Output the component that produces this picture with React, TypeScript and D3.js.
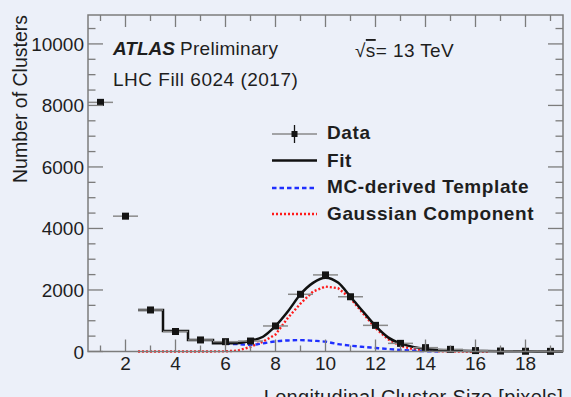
import * as d3 from "d3";

// measured cluster counts per longitudinal size bin
const dataX = [1, 2, 3, 4, 5, 6, 7, 8, 9, 10, 11, 12, 13, 14, 15, 16, 17, 18, 19];
const dataY = [8100, 4400, 1350, 650, 375, 320, 340, 830, 1860, 2490, 1780, 850, 265, 125, 70, 30, 15, 8, 5];

// fit: binned part at low sizes, then smooth part
const fitStepBins = [3, 4, 5, 6];
const fitStepValues = [1350, 665, 375, 270];
const fitCurveX = [6.5, 7, 7.5, 8, 8.5, 9, 9.5, 10, 10.5, 11, 11.5, 12, 12.5, 13, 13.5, 14, 14.5, 15, 16, 17, 18, 19, 19.5];
const fitCurveY = [270, 350, 480, 830, 1310, 1860, 2230, 2400, 2240, 1780, 1300, 830, 460, 265, 150, 85, 50, 30, 15, 8, 5, 3, 2];

// MC-derived template
const templX = [6, 6.5, 7, 7.5, 8, 8.5, 9, 9.5, 10, 10.5, 11, 11.5, 12, 12.5, 13, 13.5, 14, 14.5];
const templY = [250, 240, 215, 265, 330, 360, 370, 350, 320, 240, 190, 150, 115, 80, 50, 25, 10, 0];

// gaussian component
const gaussX = [2.5, 3, 4, 5, 6, 6.5, 7, 7.5, 8, 8.5, 9, 9.5, 10, 10.5, 11, 11.5, 12, 12.5, 13, 13.5, 14, 14.5, 15, 16, 16.5];
const gaussY = [0, 0, 0, 0, 5, 30, 150, 320, 550, 1100, 1560, 1950, 2110, 2060, 1730, 1240, 760, 400, 180, 80, 30, 10, 3, 0, 0];

const xMajor = [2, 4, 6, 8, 10, 12, 14, 16, 18];
const xMinor = d3.range(1, 20);
const yMajor = [0, 2000, 4000, 6000, 8000, 10000];
const yMinor = d3.range(0, 11000, 500);

const legendLabels = ["Data", "Fit", "MC-derived Template", "Gaussian Component"];

const W = 571;
const H = 397;
const BG = "#ecf0f9";
const AXIS = "#7c7c7c";
const INK = "#1e1e1e";
const FONT = "'Liberation Sans', Arial, Helvetica, sans-serif";

export default function App() {
  const left = 88, right = 563, top = 15, bottom = 351.5;
  const x = d3.scaleLinear().domain([0.5, 19.5]).range([left, right]);
  const y = d3.scaleLinear().domain([0, 10940]).range([bottom, top]);

  const line = d3.line<[number, number]>().x(d => x(d[0])).y(d => y(d[1]));
  const smooth = d3.line<[number, number]>().x(d => x(d[0])).y(d => y(d[1])).curve(d3.curveMonotoneX);

  const stepPts: [number, number][] = [];
  fitStepBins.forEach((b, i) => {
    stepPts.push([b - 0.5, fitStepValues[i]]);
    stepPts.push([b + 0.5, fitStepValues[i]]);
  });
  const curvePts = fitCurveX.map((v, i) => [v, fitCurveY[i]] as [number, number]);
  const templPts = templX.map((v, i) => [v, templY[i]] as [number, number]);
  const gaussPts = gaussX.map((v, i) => [v, gaussY[i]] as [number, number]);

  const legX0 = 272, legX1 = 317, legText = 327;
  const legY = [139, 166.5, 193, 220];

  return (
    <div style={{ position: "fixed", left: 0, top: 0, width: W, height: H, background: BG }}>
      <svg width={W} height={H} style={{ display: "block", fontFamily: FONT }}>
        <rect width={W} height={H} fill={BG} />

        {/* curves */}
        <path d={line(gaussPts) ?? ""} fill="none" stroke="#ff1a1a" strokeWidth={2.4} strokeDasharray="2 2" />
        <path d={smooth(templPts) ?? ""} fill="none" stroke="#1f2fff" strokeWidth={2.4} strokeDasharray="4.5 3" />
        <path d={line(stepPts) ?? ""} fill="none" stroke="#111" strokeWidth={2.5} />
        <path d={smooth(curvePts) ?? ""} fill="none" stroke="#111" strokeWidth={2.5} />

        {/* data */}
        {dataX.map((v, i) => (
          <g key={v}>
            <line x1={x(v - 0.5)} x2={x(v + 0.5)} y1={y(dataY[i])} y2={y(dataY[i])} stroke="#8a8a8a" strokeWidth={1.5} />
            <rect x={x(v) - 3.5} y={y(dataY[i]) - 3.5} width={7} height={7} fill="#141414" />
          </g>
        ))}

        {/* frame */}
        <rect x={left} y={top} width={right - left} height={bottom - top} fill="none" stroke={AXIS} strokeWidth={1.5} />
        {xMinor.map(v => {
          const major = xMajor.includes(v);
          const len = major ? 12 : 6;
          return (
            <g key={"xt" + v} stroke={AXIS} strokeWidth={1.3}>
              <line x1={x(v)} x2={x(v)} y1={bottom} y2={bottom - len} />
              <line x1={x(v)} x2={x(v)} y1={top} y2={top + len} />
            </g>
          );
        })}
        {yMinor.map(v => {
          const major = yMajor.includes(v);
          const len = major ? 15 : 7.5;
          return (
            <g key={"yt" + v} stroke={AXIS} strokeWidth={1.3}>
              <line x1={left} x2={left + len} y1={y(v)} y2={y(v)} />
              <line x1={right} x2={right - len} y1={y(v)} y2={y(v)} />
            </g>
          );
        })}
        {xMajor.map(v => (
          <text key={"xl" + v} x={x(v)} y={370} textAnchor="middle" fontSize={19} fill={INK}>{v}</text>
        ))}
        {yMajor.map(v => (
          <text key={"yl" + v} x={84} y={y(v) + 7} textAnchor="end" fontSize={19} fill={INK}>{v}</text>
        ))}

        {/* axis titles */}
        <text transform={`translate(27,${top}) rotate(-90)`} textAnchor="end" fontSize={19.5} fill={INK}>Number of Clusters</text>
        <text x={right} y={404} textAnchor="end" fontSize={20} letterSpacing={0.3} fill={INK}>Longitudinal Cluster Size [pixels]</text>

        {/* labels */}
        <text x={113} y={55} fontSize={19} fill={INK}>
          <tspan fontWeight="bold" fontStyle="italic">ATLAS</tspan>
          <tspan dx={5} letterSpacing={0.3}>Preliminary</tspan>
        </text>
        <text x={113} y={86} fontSize={19} letterSpacing={0.5} fill={INK}>LHC Fill 6024 (2017)</text>
        <text x={355} y={57} fontSize={19} letterSpacing={0.4} fill={INK}>
          <tspan>√</tspan>
          <tspan style={{ textDecoration: "overline" }}>s</tspan>
          <tspan>= 13 TeV</tspan>
        </text>

        {/* legend */}
        <g>
          <line x1={legX0} x2={legX1} y1={legY[0] - 5} y2={legY[0] - 5} stroke="#8a8a8a" strokeWidth={1.5} />
          <line x1={(legX0 + legX1) / 2} x2={(legX0 + legX1) / 2} y1={legY[0] - 14} y2={legY[0] + 4} stroke="#141414" strokeWidth={1.3} />
          <rect x={(legX0 + legX1) / 2 - 3} y={legY[0] - 8} width={6} height={6} fill="#141414" />
          <line x1={legX0} x2={legX1} y1={legY[1] - 6} y2={legY[1] - 6} stroke="#111" strokeWidth={2.5} />
          <line x1={legX0} x2={legX1} y1={legY[2] - 5} y2={legY[2] - 5} stroke="#1f2fff" strokeWidth={2.4} strokeDasharray="4.5 3" />
          <line x1={legX0} x2={legX1} y1={legY[3] - 6} y2={legY[3] - 6} stroke="#ff1a1a" strokeWidth={2.4} strokeDasharray="2 2" />
          {legendLabels.map((l, i) => (
            <text key={l} x={legText} y={legY[i]} fontSize={19} letterSpacing={0.6} fontWeight="bold" fill={INK}>{l}</text>
          ))}
        </g>
      </svg>
    </div>
  );
}
